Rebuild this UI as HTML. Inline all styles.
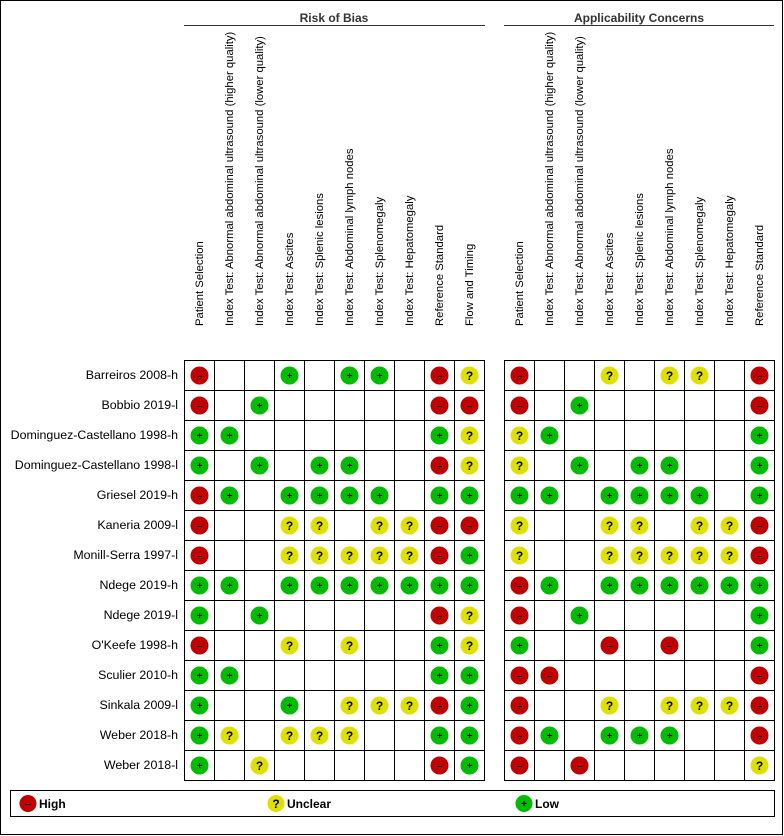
<!DOCTYPE html>
<html><head><meta charset="utf-8"><style>
html,body{margin:0;padding:0;background:#fff}
svg{display:block;font-family:"Liberation Sans",Arial,sans-serif}
</style></head><body>
<svg id="c" width="784" height="836" xmlns="http://www.w3.org/2000/svg">
<rect x="0.5" y="0.5" width="782" height="834" fill="#fff" stroke="#000" stroke-width="1"/>
<text x="334" y="22" text-anchor="middle" font-size="12" font-weight="bold" fill="#333">Risk of Bias</text>
<line x1="184" y1="25.5" x2="485" y2="25.5" stroke="#333"/>
<text x="639" y="22" text-anchor="middle" font-size="12" font-weight="bold" fill="#333">Applicability Concerns</text>
<line x1="504" y1="25.5" x2="774" y2="25.5" stroke="#333"/>
<rect x="10.5" y="790.5" width="764" height="26" fill="#fff" stroke="#000"/>
</svg>
<script>
const studies=["Barreiros 2008-h","Bobbio 2019-l","Dominguez-Castellano 1998-h","Dominguez-Castellano 1998-l","Griesel 2019-h","Kaneria 2009-l","Monill-Serra 1997-l","Ndege 2019-h","Ndege 2019-l","O'Keefe 1998-h","Sculier 2010-h","Sinkala 2009-l","Weber 2018-h","Weber 2018-l"];
const robDomains=["Patient Selection","Index Test: Abnormal abdominal ultrasound (higher quality)","Index Test: Abnormal abdominal ultrasound (lower quality)","Index Test: Ascites","Index Test: Splenic lesions","Index Test: Abdominal lymph nodes","Index Test: Splenomegaly","Index Test: Hepatomegaly","Reference Standard","Flow and Timing"];
const appDomains=["Patient Selection","Index Test: Abnormal abdominal ultrasound (higher quality)","Index Test: Abnormal abdominal ultrasound (lower quality)","Index Test: Ascites","Index Test: Splenic lesions","Index Test: Abdominal lymph nodes","Index Test: Splenomegaly","Index Test: Hepatomegaly","Reference Standard"];
const robValues=["H__L_LL_HU","H_L_____HH","LL______LU","L_L_LL__HU","HL_LLLL_LL","H__UU_UUHH","H__UUUUUHL","LL_LLLLLLL","L_L_____HU","H__U_U__LU","LL______LL","L__L_UUUHL","LU_UUU__LL","L_U_____HL"];
const appValues=["H__U_UU_H","H_L_____H","UL______L","U_L_LL__L","LL_LLLL_L","U__UU_UUH","U__UUUUUH","HL_LLLLLL","H_L_____L","L__H_H__L","HH______H","H__U_UUUH","HL_LLL__H","H_H_____U"];
const svg=document.getElementById('c');const NS="http://www.w3.org/2000/svg";
const colors={H:"#c00000",U:"#e0e000",L:"#00bb00"};const syms={H:"–",U:"?",L:"+"};
const rowTop=360,rowH=30,colW=30;
function el(t,a){const e=document.createElementNS(NS,t);for(const k in a)e.setAttribute(k,a[k]);svg.appendChild(e);return e;}
function yOf(i){return rowTop+i*rowH;}
function mark(cx,cy,v,r){
 const c=el('circle',{cx:cx,cy:cy,r:r,fill:colors[v]});
 
 
 const t=el('text',{x:cx,y:cy+(v==='U'?4.5:3.5),'text-anchor':'middle','font-size':v==='U'?12:10,'font-weight':'bold',fill:'#000'});
 t.textContent=syms[v];
 
 
}
function grid(x0,domains,values,prefix){
 const n=domains.length;
 domains.forEach((d,j)=>{
  const cx=x0+j*colW+colW/2;
  const t=el('text',{x:0,y:0,'font-size':11.3,fill:'#000',transform:'translate('+(cx+4)+',326) rotate(-90)'});
  t.textContent=d;
  
  
 });
 for(let i=0;i<=studies.length;i++){
  const l=el('line',{x1:x0,x2:x0+n*colW,y1:yOf(i)+0.5,y2:yOf(i)+0.5,stroke:'#000'});
  
  
 }
 for(let j=0;j<=n;j++){
  const l=el('line',{x1:x0+j*colW+0.5,x2:x0+j*colW+0.5,y1:rowTop,y2:yOf(studies.length)+1,stroke:'#000'});
  
  
 }
 values.forEach((row,i)=>{
  for(let j=0;j<n;j++){const v=row[j];if(v&&v!=='_')mark(x0+j*colW+colW/2+0.5,yOf(i)+rowH/2+0.5,v,9);}
 });
}
studies.forEach((s,i)=>{
 const t=el('text',{x:178,y:yOf(i)+19,'text-anchor':'end','font-size':12.4,fill:'#000'});
 t.textContent=s;
 
 
});
grid(184,robDomains,robValues,'risk-of-bias');
grid(504,appDomains,appValues,'applicability');
[["H","High",28],["U","Unclear",276],["L","Low",524]].forEach(([v,lab,x])=>{
 mark(x,803.5,v,8.5);
 const t=el('text',{x:x+11,y:808,'font-size':12,'font-weight':'bold',fill:'#000'});
 t.textContent=lab;
 
 
});
</script>
</body></html>
